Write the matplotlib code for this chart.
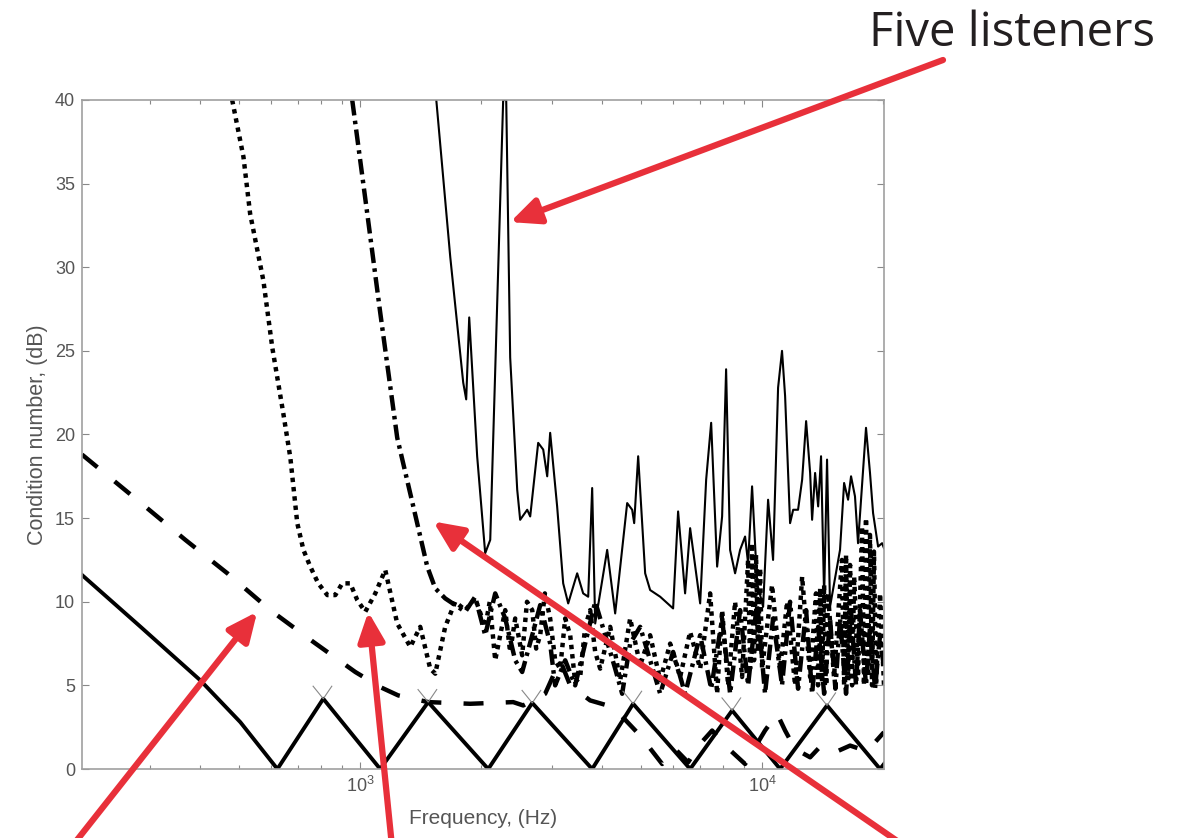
import matplotlib
matplotlib.use("Agg")
import matplotlib.pyplot as plt
from matplotlib.ticker import LogLocator, NullFormatter

plt.rcParams["font.family"] = ["Liberation Sans", "DejaVu Sans"]

# ---------------- data (frequency in Hz, condition number in dB) ----------------
# thick solid curve
solid_f = [203, 284, 400, 503, 622, 809, 1121, 1476, 2082, 2679, 3777, 4776,
           6622, 8424, 11090, 14510, 19660, 20110]
solid_db = [11.6, 8.5, 5.3, 2.8, 0.0, 4.2, 0.0, 4.0, 0.0, 3.95, 0.0, 3.9,
            0.0, 3.5, 0.0, 3.8, 0.0, 0.3]
peak_f = [809, 1476, 2679, 4776, 8424, 14510]
peak_db = [4.2, 4.0, 3.95, 3.9, 3.5, 3.8]

# thick dashed curve
dash_f = [203, 288, 367, 467, 597, 764, 972, 1121, 1243, 1476, 1878, 2402,
          2544, 2885, 3144, 3330, 3734, 4260, 4972, 5641, 6075, 6545, 7013,
          7511, 8091, 9072, 10170, 10900, 11410, 12080, 13170, 13900, 15190,
          16560, 18040, 19100, 20110]
dash_db = [18.8, 15.8, 13.7, 11.7, 9.5, 7.6, 5.8, 4.9, 4.4, 4.0, 3.9, 4.0,
           3.8, 4.5, 6.5, 5.0, 4.1, 3.7, 2.0, 0.3, 1.2, 0.4, 1.5,
           2.3, 1.4, 0.3, 2.3, 3.3, 2.3, 1.2, 0.7, 1.3, 1.0,
           1.4, 1.1, 1.6, 2.2]

# thick dotted curve
dot_f = [480, 512, 532, 574, 604, 643, 670, 697, 722, 751, 786, 828, 867,
         902, 944, 983, 1029, 1090, 1154, 1236, 1332, 1410, 1493, 1537, 1627,
         1723, 1825, 1932, 2046, 2100, 2167, 2230, 2295, 2360, 2430, 2529,
         2600, 2679, 2740, 2804, 2880, 2969, 3055, 3144, 3236, 3330, 3426,
         3526, 3628, 3734, 3843, 3954, 4188, 4435, 4695, 4972, 5265, 5577,
         5905, 6252, 6621, 7013, 7425, 7729, 7953, 8231, 8567, 8917, 9230,
         9336, 9443, 9550, 9660, 9770, 9886, 10000, 10590, 11090, 11540,
         12080, 12580, 13170, 13620, 13780, 13950, 14100, 14270, 14440,
         14590, 15100, 15800, 16000, 16180, 16370, 16560, 16750, 16950,
         17330, 17730, 17930, 18140, 18350, 18560, 18780, 18990, 19210,
         19660, 20110]
dot_db = [40, 36.6, 33.2, 29.2, 25.2, 21.3, 18.6, 14.7, 13.1, 12.1, 11.1,
          10.4, 10.4, 11.1, 11.1, 10.1, 9.4, 10.5, 11.9, 8.7, 7.3, 8.5, 6.0,
          5.7, 8.5, 10.0, 9.5, 10.2, 8.5, 10.0, 6.5, 8.0, 9.5, 7.0, 9.0, 6.8,
          10.0, 9.5, 7.2, 8.0, 10.5, 9.0, 6.5, 6.0, 9.0, 8.0, 5.2,
          5.5, 8.5, 9.5, 7.0, 6.0, 8.5, 5.3, 9.0, 6.2, 8.0, 5.3,
          7.5, 5.5, 8.2, 6.0, 10.5, 4.5, 9.5, 5.0, 10.0, 5.5, 12.5,
          6.0, 13.5, 6.5, 12.8, 7.0, 12.0, 6.0, 11.0, 6.0, 10.0,
          5.0, 11.5, 5.5, 10.5, 5.0, 10.8, 5.2, 11.0, 5.0,
          10.5, 5.5, 12.5, 5.0, 12.8, 5.3, 12.2, 5.0, 11.5,
          5.5, 14.5, 5.0, 15.0, 5.5, 14.0, 5.0, 13.0, 5.0,
          10.5, 5.0]

# thick dash-dot curve
dd_f = [955, 1041, 1121, 1236, 1355, 1468, 1537, 1627, 1723, 1825, 1932,
        2046, 2167, 2295, 2430, 2529, 2679, 2804, 2969, 3055, 3236, 3426,
        3628, 3843, 4070, 4309, 4485, 4695, 4972, 5265, 5577, 6006, 6433,
        7013, 7469, 7953, 8325, 8816, 9230, 9718, 10170, 10650, 11210,
        11740, 12290, 12870, 13320, 13790, 14270, 14760, 15220, 15630,
        16180, 16650, 17130, 17530, 18140, 18560, 19100, 19660, 20110]
dd_db = [40, 33.2, 27.3, 19.8, 15.7, 12.1, 10.8, 10.2, 9.8, 9.4, 10.3,
         8.0, 10.5, 9.0, 6.5, 5.8, 8.0, 9.8, 7.5, 5.0, 6.5, 5.0,
         7.5, 10.0, 8.0, 6.0, 4.5, 7.5, 8.5, 6.5, 4.5, 7.0, 4.5,
         8.0, 4.8, 9.0, 4.5, 9.5, 5.0, 10.0, 4.5, 9.0, 5.0,
         10.0, 4.8, 9.5, 4.5, 8.5, 4.5, 9.0, 4.8, 9.0,
         4.5, 9.5, 5.0, 9.5, 5.0, 8.5, 4.8, 8.0, 6.0]

# thin solid curve (five listeners)
thin_f = [1546, 1675, 1804, 1835, 1867, 1954, 2046, 2106, 2268, 2308, 2361,
          2458, 2500, 2603, 2648, 2772, 2853, 2919, 2969, 3090, 3199, 3292,
          3466, 3587, 3692, 3777, 3843, 4116, 4309, 4616, 4750, 4805, 4916,
          5117, 5265, 5577, 6006, 6180, 6433, 6621, 7013, 7258, 7469, 7729,
          7953, 8137, 8325, 8567, 8816, 9072, 9230, 9443, 9718, 10060,
          10350, 10650, 10960, 11210, 11410, 11740, 11950, 12290, 12580,
          12870, 13170, 13320, 13550, 13790, 14020, 14270, 14510, 14760,
          15630, 16000, 16370, 16650, 17030, 17330, 18140, 18560, 18890,
          19440, 19890, 20110]
thin_db = [40, 30.6, 23.1, 22.1, 27.0, 18.7, 12.9, 13.7, 40, 40, 24.6,
           16.7, 14.9, 15.5, 15.1, 19.5, 19.1, 17.5, 20.1, 15.7, 11.1, 9.9,
           11.7, 10.5, 10.3, 16.8, 8.7, 13.1, 9.3, 15.9, 15.5, 14.7, 18.7,
           11.7, 10.7, 10.3, 9.6, 15.4, 10.5, 14.4, 9.9, 17.3, 20.7, 12.1,
           15.1, 23.9, 13.1, 11.7, 13.1, 13.9, 12.3, 16.9, 11.1, 9.7,
           16.1, 12.5, 22.8, 25.0, 22.3, 14.7, 15.5, 15.5, 17.3,
           20.8, 17.7, 14.9, 17.7, 15.7, 18.7, 10.3, 18.5, 9.7,
           13.1, 17.1, 16.1, 17.5, 16.3, 13.5, 20.4, 17.7, 15.3,
           13.3, 13.5, 13.2]

y_ticks = [0, 5, 10, 15, 20, 25, 30, 35, 40]
x_label = "Frequency, (Hz)"
y_label = "Condition number, (dB)"
title_text = "Five listeners"

# ---------------- figure ----------------
W, H = 1183, 838
fig = plt.figure(figsize=(W / 100, H / 100), dpi=100)
ax = fig.add_axes([82 / W, 1 - 769 / H, 802 / W, 669 / H])
ax.set_xscale("log")
ax.set_xlim(203, 20110)
ax.set_ylim(0, 40)

k = "black"
ax.plot(thin_f, thin_db, color=k, lw=1.5)
ax.plot(dot_f, dot_db, color=k, lw=3.2, linestyle=(0, (1, 1.1)))
ax.plot(dd_f, dd_db, color=k, lw=3.2, linestyle=(0, (3.5, 1.2, 0.8, 1.2)))
ax.plot(dash_f, dash_db, color=k, lw=3.2, linestyle=(0, (4.5, 5)))
ax.plot(solid_f, solid_db, color=k, lw=2.8)

# thin crossing marks at the peaks of the thick solid curve
for pf, pdb in zip(peak_f, peak_db):
    ax.plot([pf / 1.06, pf, pf * 1.05], [pdb + 0.75, pdb, pdb + 0.75],
            color="#888888", lw=0.8)

ax.set_yticks(y_ticks)
ax.xaxis.set_major_locator(LogLocator(base=10, numticks=10))
ax.xaxis.set_minor_locator(LogLocator(base=10, subs=range(2, 10), numticks=20))
ax.xaxis.set_minor_formatter(NullFormatter())
ax.tick_params(which="both", direction="in", top=True, right=True,
               color="#888888", labelsize=13, labelcolor="#555555")
ax.tick_params(which="major", length=5, width=0.8, pad=5)
ax.tick_params(which="minor", length=3, width=0.8)
for s in ax.spines.values():
    s.set_color("#a0a0a0")
    s.set_linewidth(1.2)

ax.set_xlabel(x_label, fontsize=15, color="#555555", labelpad=9)
ax.set_ylabel(y_label, fontsize=15.5, color="#555555", labelpad=5)

# annotations
red = "#e8303a"
fig.text(1155 / W, 1 - 46 / H, title_text, ha="right", va="baseline",
         fontsize=34, family="Open Sans", color="#231f20")

arrow = dict(arrowstyle="-|>,head_length=1.1,head_width=0.5", color=red,
             lw=4.5, mutation_scale=16, shrinkA=0, shrinkB=0)
ax.annotate("", xy=(2361, 32.7), xycoords="data",
            xytext=(943 / W, 1 - 60 / H), textcoords="figure fraction",
            arrowprops=arrow, annotation_clip=False)
ax.annotate("", xy=(554, 9.4), xycoords="data",
            xytext=(72 / W, -0.01), textcoords="figure fraction",
            arrowprops=arrow, annotation_clip=False)
ax.annotate("", xy=(1047, 9.4), xycoords="data",
            xytext=(392 / W, -0.01), textcoords="figure fraction",
            arrowprops=arrow, annotation_clip=False)
ax.annotate("", xy=(1519, 14.8), xycoords="data",
            xytext=(905 / W, -0.01), textcoords="figure fraction",
            arrowprops=arrow, annotation_clip=False)

fig.savefig("out.png", dpi=100)
